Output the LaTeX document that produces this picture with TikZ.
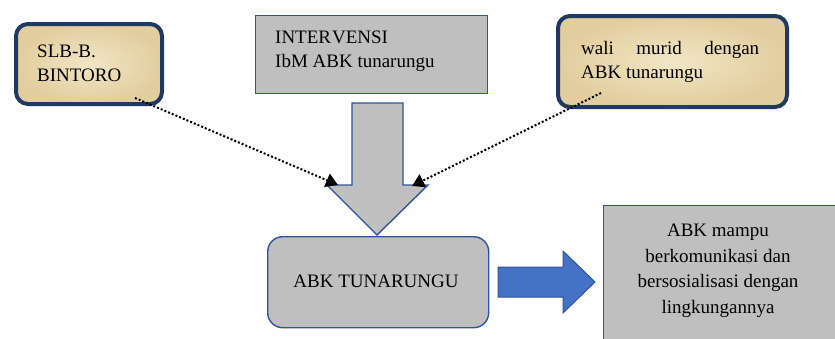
\documentclass[tikz,border=0pt]{standalone}
\usepackage{fontspec}
\setmainfont{Liberation Serif}
\usetikzlibrary{arrows.meta}
\definecolor{navy}{HTML}{203864}
\definecolor{bordblue}{HTML}{2F5597}
\definecolor{parchin}{HTML}{F2E6C6}
\definecolor{parchout}{HTML}{E2CD9E}
\definecolor{boxgray}{HTML}{BFBFBF}
\definecolor{arrblue}{HTML}{4472C4}
\tikzset{
  parchbox/.style={draw=navy, line width=4pt, inner color=parchin, outer color=parchout, rounded corners=12pt, inner sep=0pt},
  graybox/.style={draw=bordblue, line width=1.4pt, fill=boxgray, inner sep=0pt},
  txt/.style={font=\fontsize{19}{23.5}\selectfont, inner sep=0pt, anchor=base west},
  dotline/.style={line width=2pt, dash pattern=on 2pt off 2pt, -{Triangle[width=14pt,length=12pt]}}
}
\begin{document}
\begin{tikzpicture}[x=1pt,y=-1pt]
\useasboundingbox (0,0) rectangle (835,338);
% top left parchment box
\node[parchbox, minimum width=146pt, minimum height=80pt, anchor=north west] (slb) at (14,22) {};
\node[txt] (slbt1) at (37,57) {SLB-B.};
\node[txt] (slbt2) at (37,81) {BINTORO};
% top right parchment box
\node[parchbox, minimum width=229pt, minimum height=91pt, anchor=north west] (wali) at (556,14) {};
\node[txt] (walit1) at (581,54) {\makebox[178pt][s]{wali\hfill murid\hfill dengan}};
\node[txt] (walit2) at (581,78) {ABK tunarungu};
% intervensi box
\node[graybox, minimum width=232pt, minimum height=78pt, anchor=north west] (interv) at (255,15) {};
\node[txt] (intt1) at (275,43) {INTER\kern1pt VENSI};
\node[txt] (intt2) at (275,67) {IbM ABK tunarungu};
% down block arrow
\draw[draw=bordblue, line width=1.4pt, fill=boxgray, line join=miter]
  (352,103) -- (403,103) -- (403,185) -- (428,185) -- (377,235) -- (327,185) -- (352,185) -- cycle;
\coordinate (tipL) at (338,185);
\coordinate (tipR) at (412,186);
% ABK tunarungu box
\node[graybox, rounded corners=15pt, minimum width=221pt, minimum height=91pt, anchor=north west] (abk) at (267,236) {};
\node[txt, anchor=base] (abkt) at (376,287) {ABK TUNARUNGU};
% blue right block arrow
\draw[draw=bordblue, line width=1pt, fill=arrblue, line join=miter]
  (498,267) -- (563,267) -- (563,251) -- (595,282) -- (563,313) -- (563,297) -- (498,297) -- cycle;
% result box
\node[graybox, minimum width=240pt, minimum height=140pt, anchor=north west] (res) at (603,205) {};
\node[txt, anchor=north, align=center, font=\fontsize{19}{25.5}\selectfont] (rest) at (718,224)
  {ABK mampu\\berkomunikasi dan\\bersosialisasi dengan\\lingkungannya};
% dotted connectors
\coordinate (slbS) at (135,98);
\coordinate (waliS) at (601,93);
\draw[dotline] (slbS) -- (tipL);
\draw[dotline] (waliS) -- (tipR);
\end{tikzpicture}
\end{document}
